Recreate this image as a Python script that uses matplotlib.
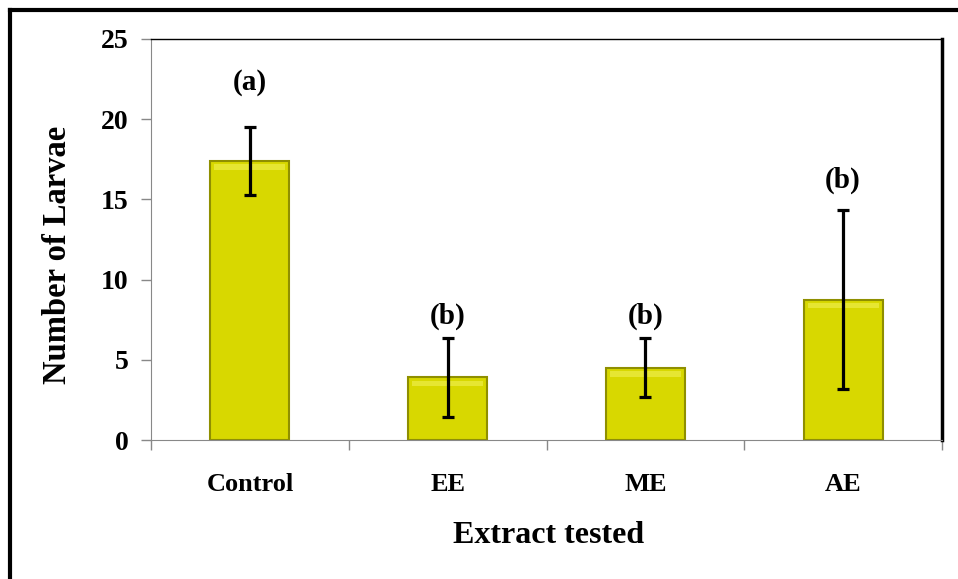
import matplotlib
matplotlib.use('Agg')
import matplotlib.pyplot as plt
from matplotlib.lines import Line2D
import numpy as np

# data
categories = ['Control', 'EE', 'ME', 'AE']
means = [17.4, 3.9, 4.5, 8.75]
errors = [2.1, 2.45, 1.85, 5.6]
letters = ['(a)', '(b)', '(b)', '(b)']
letter_y = [22.3, 7.7, 7.7, 16.2]

plt.rcParams['font.family'] = ['Liberation Serif', 'DejaVu Serif']
plt.rcParams['font.weight'] = 'bold'

fig = plt.figure(figsize=(9.58, 5.79), dpi=100)
ax = fig.add_axes([151 / 958, 139 / 579, 791 / 958, 401 / 579])

x = np.arange(len(categories))
ax.bar(x, means, width=0.4, color='#d8d800', edgecolor='#8f8f00', linewidth=1.5, zorder=2)
# light bevel strip along the top of each bar
ax.bar(x, [0.35] * len(means), bottom=np.array(means) - 0.55, width=0.36,
       color='#e6e632', linewidth=0, zorder=2)
ax.errorbar(x, means, yerr=errors, fmt='none', ecolor='black', elinewidth=2.3,
            capsize=4.5, capthick=2.3, zorder=3)

for xi, lab, ly in zip(x, letters, letter_y):
    ax.text(xi, ly, lab, ha='center', va='center', fontsize=21, fontweight='bold')

ax.set_xlim(-0.5, len(categories) - 0.5)
ax.set_ylim(0, 25)
ax.set_yticks([0, 5, 10, 15, 20, 25])
ax.set_xticks(x)
ax.set_xticklabels(categories)
ax.set_xticks(np.arange(len(categories) + 1) - 0.5, minor=True)

ax.tick_params(axis='x', which='major', length=0, pad=24, labelsize=19)
ax.tick_params(axis='x', which='minor', length=7, color='#888888', width=1)
ax.tick_params(axis='y', length=7, color='#888888', width=1, pad=9, labelsize=20)

ax.spines['left'].set_color('#888888')
ax.spines['bottom'].set_color('#888888')
ax.spines['top'].set_color('black')
ax.spines['top'].set_linewidth(1)
ax.spines['right'].set_color('black')
ax.spines['right'].set_linewidth(2.5)

ax.set_ylabel('Number of Larvae', fontsize=23.5, fontweight='bold', va='center')
ax.yaxis.set_label_coords(-0.118, 0.461)
ax.set_xlabel('Extract tested', fontsize=23, fontweight='bold', va='center')
ax.xaxis.set_label_coords(0.502, -0.237)

# outer frame (top and left edges)
fig.add_artist(Line2D([10 / 958, 10 / 958], [0, 1 - 10 / 579], transform=fig.transFigure,
                      color='black', linewidth=3))
fig.add_artist(Line2D([10 / 958, 1], [1 - 10 / 579, 1 - 10 / 579], transform=fig.transFigure,
                      color='black', linewidth=3))

fig.savefig('out.png', dpi=100)
plt.close(fig)
